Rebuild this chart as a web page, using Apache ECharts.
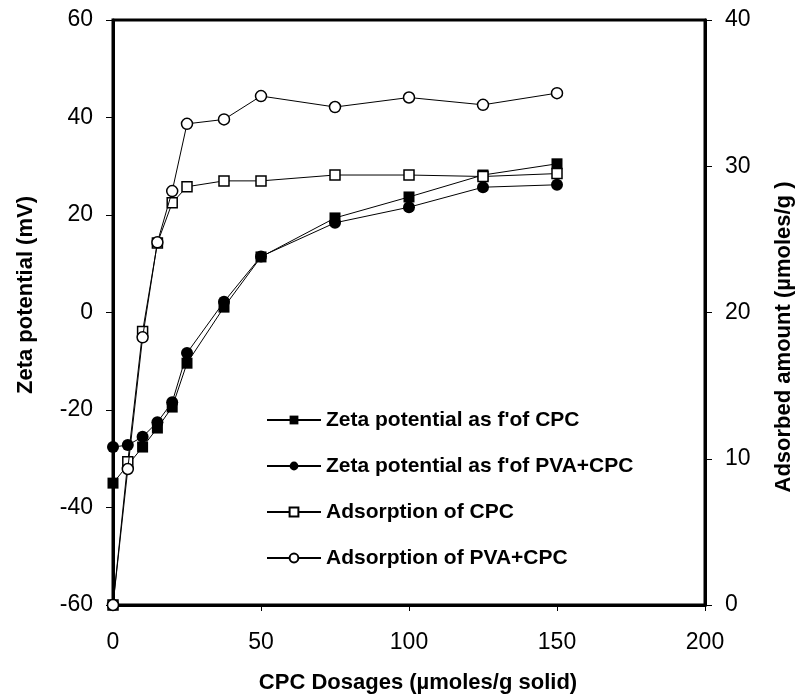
<!DOCTYPE html>
<html>
<head>
<meta charset="utf-8">
<script src="https://cdn.jsdelivr.net/npm/echarts@6/dist/echarts.min.js"></script>
<style>
html,body{margin:0;padding:0;background:#fff;}
#chart{width:796px;height:699px;}
</style>
</head>
<body>
<div id="chart"></div>
<script>
// Data
var dosages = [0, 5, 10, 15, 20, 25, 37.5, 50, 75, 100, 125, 150];
var zetaCPCx = [0, 10, 15, 20, 25, 37.5, 50, 75, 100, 125, 150];
var zetaCPCy = [-35, -27.6, -23.7, -19.4, -10.4, 1.1, 11.4, 19.4, 23.7, 28.2, 30.5];
var zetaPVAx = [0, 5, 10, 15, 20, 25, 37.5, 50, 75, 100, 125, 150];
var zetaPVAy = [-27.6, -27.2, -25.5, -22.5, -18.4, -8.3, 2.2, 11.5, 18.4, 21.6, 25.7, 26.2];
var adsCPCy = [0, 9.8, 18.7, 24.75, 27.5, 28.6, 29.0, 29.0, 29.4, 29.4, 29.3, 29.5];
var adsPVAy = [0, 9.3, 18.3, 24.8, 28.3, 32.9, 33.2, 34.8, 34.05, 34.7, 34.2, 35.0];
var seriesNames = ["Zeta potential as f'of CPC", "Zeta potential as f'of PVA+CPC", "Adsorption of CPC", "Adsorption of PVA+CPC"];
var xTitle = "CPC Dosages (\u00b5moles/g solid)";
var yLeftTitle = "Zeta potential (mV)";
var yRightTitle = "Adsorbed amount (\u00b5moles/g )";

function pairs(xs, ys) { return xs.map(function (x, i) { return [x, ys[i]]; }); }

var FONT = "'Liberation Sans', Arial, sans-serif";
var chart = echarts.init(document.getElementById('chart'), null, {renderer: 'canvas'});

var lineStyle = {color: '#000', width: 1};
var option = {
  backgroundColor: '#fff',
  animation: false,
  grid: {left: 113, right: 91, top: 20, bottom: 94, show: true, borderColor: '#000', borderWidth: 3, backgroundColor: 'transparent'},
  legend: {
    left: 266, top: 409, orient: 'vertical', itemWidth: 54, itemHeight: 11, itemGap: 24, padding: 0,
    selectedMode: false,
    textStyle: {fontFamily: FONT, fontSize: 21, fontWeight: 'bold', color: '#000', lineHeight: 22},
    data: seriesNames
  },
  xAxis: {
    type: 'value', min: 0, max: 200, interval: 50,
    axisLine: {show: true, onZero: false, lineStyle: {color: '#000', width: 3}},
    axisTick: {show: true, inside: false, length: 6, lineStyle: {color: '#000', width: 1}},
    axisLabel: {margin: 26, fontFamily: FONT, fontSize: 23, color: '#000'},
    splitLine: {show: false}
  },
  yAxis: [{
    type: 'value', min: -60, max: 60, interval: 20, position: 'left',
    axisLine: {show: true, onZero: false, lineStyle: {color: '#000', width: 3}},
    axisTick: {show: true, inside: false, length: 7, lineStyle: {color: '#000', width: 1}},
    axisLabel: {margin: 20, fontFamily: FONT, fontSize: 23, color: '#000'},
    splitLine: {show: false}
  }, {
    type: 'value', min: 0, max: 40, interval: 10, position: 'right',
    axisLine: {show: true, onZero: false, lineStyle: {color: '#000', width: 3}},
    axisTick: {show: true, inside: false, length: 7, lineStyle: {color: '#000', width: 1}},
    axisLabel: {margin: 20, fontFamily: FONT, fontSize: 23, color: '#000'},
    splitLine: {show: false}
  }],
  graphic: [
    {type: 'text', x: 418, y: 683, style: {text: xTitle, fontFamily: FONT, fontSize: 22, fontWeight: 'bold', fill: '#000', align: 'center', verticalAlign: 'middle'}},
    {type: 'text', x: 26, y: 295, rotation: Math.PI / 2, style: {text: yLeftTitle, fontFamily: FONT, fontSize: 22, fontWeight: 'bold', fill: '#000', align: 'center', verticalAlign: 'middle'}},
    {type: 'text', x: 784, y: 337, rotation: Math.PI / 2, style: {text: yRightTitle, fontFamily: FONT, fontSize: 22, fontWeight: 'bold', fill: '#000', align: 'center', verticalAlign: 'middle'}}
  ],
  series: [
    {name: seriesNames[0], type: 'line', yAxisIndex: 0, data: pairs(zetaCPCx, zetaCPCy), symbol: 'rect', symbolSize: 11,
      itemStyle: {color: '#000', borderColor: '#000', borderWidth: 0}, lineStyle: lineStyle, z: 2},
    {name: seriesNames[1], type: 'line', yAxisIndex: 0, data: pairs(zetaPVAx, zetaPVAy), symbol: 'circle', symbolSize: 12,
      itemStyle: {color: '#000', borderColor: '#000', borderWidth: 0}, lineStyle: lineStyle, z: 3},
    {name: seriesNames[2], type: 'line', yAxisIndex: 1, data: pairs(dosages, adsCPCy), symbol: 'rect', symbolSize: 10,
      itemStyle: {color: '#fff', borderColor: '#000', borderWidth: 1.5}, lineStyle: lineStyle, z: 4},
    {name: seriesNames[3], type: 'line', yAxisIndex: 1, data: pairs(dosages, adsPVAy), symbol: 'circle', symbolSize: 11,
      itemStyle: {color: '#fff', borderColor: '#000', borderWidth: 1.5}, lineStyle: lineStyle, z: 5}
  ]
};
chart.setOption(option);
</script>
</body>
</html>
